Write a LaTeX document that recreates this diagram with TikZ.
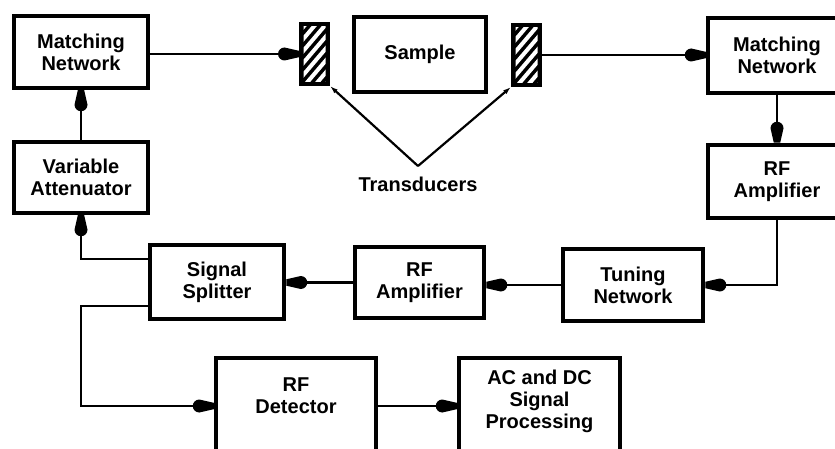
\documentclass[tikz,border=0pt]{standalone}
\usepackage{fontspec}
\setmainfont{Liberation Sans}
\usetikzlibrary{calc,arrows.meta}

\pgfdeclarearrow{
  name = Drop,
  setup code = {
    \pgfarrowssettipend{0pt}
    \pgfarrowssetlineend{-13pt}
    \pgfarrowssetbackend{-21pt}
  },
  drawing code = {
    \pgfpathmoveto{\pgfqpoint{0pt}{3.2pt}}
    \pgfpathlineto{\pgfqpoint{-14.5pt}{6.5pt}}
    \pgfpatharc{90}{270}{6.5pt}
    \pgfpathlineto{\pgfqpoint{0pt}{-3.2pt}}
    \pgfpathclose
    \pgfusepathqfill
  },
  defaults = {}
}

\begin{document}
\begin{tikzpicture}[x=1pt,y=-1pt,
  txt/.style={font=\bfseries\fontsize{20}{22}\selectfont, text=black},
  box/.style={draw=black, line width=4.5pt, fill=white, inner sep=0pt, align=center, txt},
  lbl/.style={align=center, inner sep=0pt, txt},
  conn/.style={line width=2.4pt, -Drop},
  pointer/.style={line width=2.2pt, -{Latex[length=8pt,width=5pt]}},
  trd/.style={draw=black, fill=black, line width=1pt, inner sep=0pt, minimum width=30pt, minimum height=63pt},
  stripe/.style={white, line width=4pt}
]
\useasboundingbox[fill=white] (0,0) rectangle (835,449);

% boxes
\node[box, minimum width=134pt, minimum height=72pt] (mnL) at (81,52) {Matching\\Network};
\node[box, minimum width=134pt, minimum height=71pt] (va) at (81,177.5) {Variable\\Attenuator};
\node[box, minimum width=132pt, minimum height=75pt] (sample) at (420,54.5) {Sample};
\node[trd] (trL) at (314.5,54) {};
\node[trd] (trR) at (526.5,55) {};
\node[box, minimum width=138pt, minimum height=75pt] (mnR) at (777,55.5) {Matching\\Network};
\node[box, minimum width=138pt, minimum height=73pt] (rfaR) at (777,181.5) {RF\\Amplifier};
\node[box, minimum width=140pt, minimum height=72pt] (tune) at (633,285) {Tuning\\Network};
\node[box, minimum width=129pt, minimum height=71pt] (rfaM) at (419.5,282.5) {RF\\Amplifier};
\node[box, minimum width=134pt, minimum height=74pt] (split) at (217,282) {Signal\\Splitter};
\node[box, minimum width=160pt, minimum height=96pt] (det) at (296,406) {};
\node[lbl] (detT) at (296,396) {RF\\Detector};
\node[box, minimum width=161pt, minimum height=96pt] (ac) at (539.5,406) {};
\node[lbl] (acT) at (539.5,401) {AC and DC\\Signal\\Processing};

% hatching of transducers
\foreach \t in {trL,trR}{
  \begin{scope}
    \clip ($(\t.south west)+(4.5,-4.5)$) rectangle ($(\t.north east)+(-4.5,4.5)$);
    \foreach \k in {0,...,9}
      \draw[stripe] ($(\t.south west)+(0,{30-12*\k})$) -- ++(34,-40);
  \end{scope}
}

% connectors
\draw[conn] (mnL.east |- trL.west) -- (trL.west);
\draw[conn] (trR.east) -- (trR.east -| mnR.west);
\draw[conn] (mnR.south) -- (rfaR.north);
\draw[conn] (rfaR.south) |- (tune.east);
\draw[conn] (tune.west) -- (tune.west -| rfaM.east);
\draw[conn] (rfaM.west) -- (rfaM.west -| split.east);
\draw[conn] ($(split.north west)+(0,16)$) -| (va.south);
\draw[conn] ($(split.south west)+(0,-15)$) -| (va.south |- det.west) -- (det.west);
\draw[conn] (det.east) -- (ac.west);
\draw[conn] (va.north) -- (mnL.south);

% transducers label
\coordinate (apex) at (418,166);
\node[lbl] (trans) at (418,184) {Transducers};
\draw[pointer] (apex) -- (trL.south east);
\draw[pointer] (apex) -- (trR.south west);
\end{tikzpicture}
\end{document}
